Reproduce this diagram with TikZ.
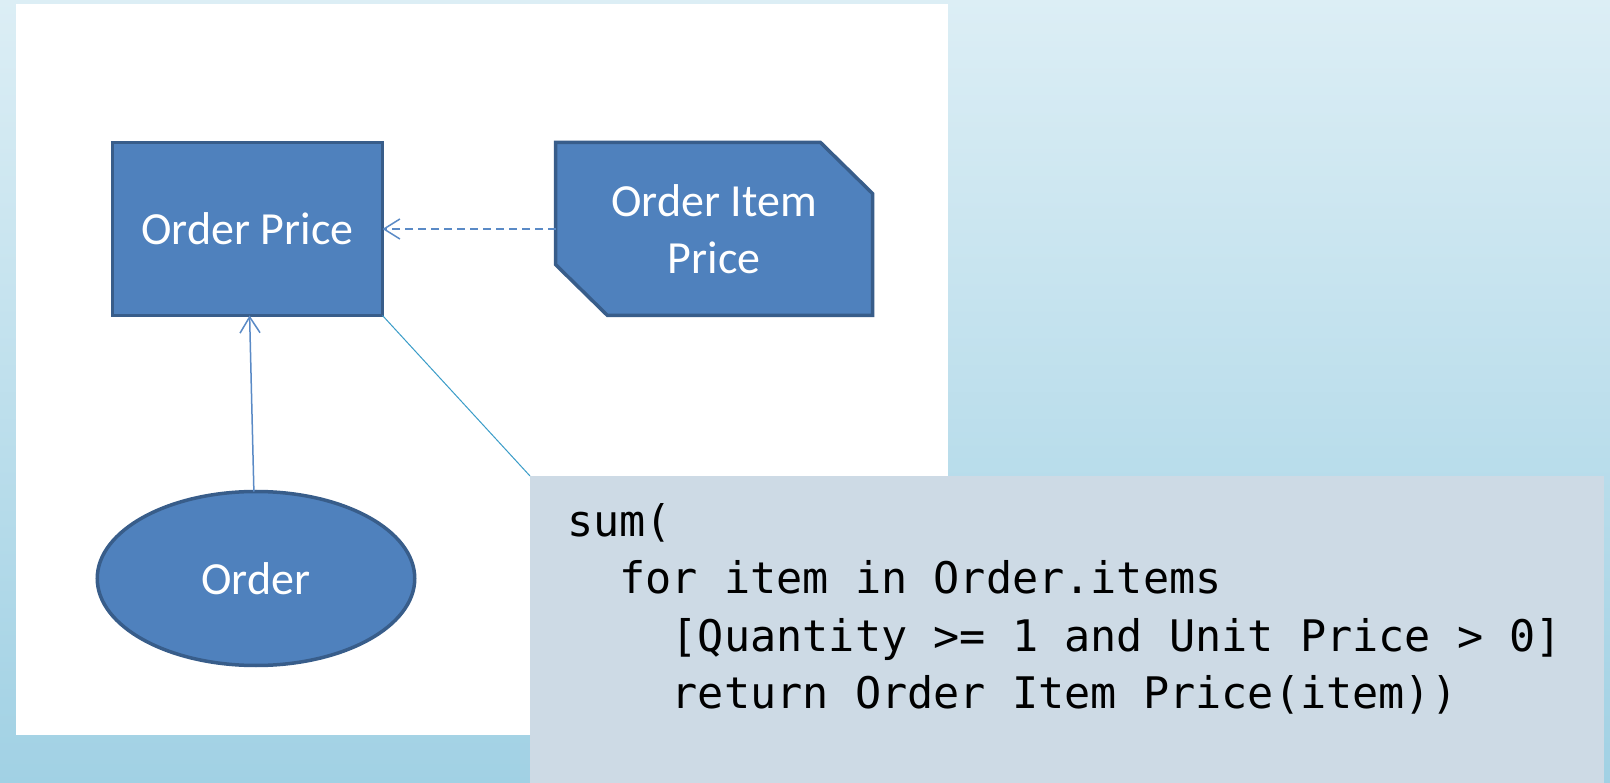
\documentclass[tikz,border=0pt]{standalone}
\usepackage{fontspec}
\usetikzlibrary{arrows.meta,calc,shapes.geometric}
\newfontfamily\shapefont{Carlito}
\newfontfamily\codefont{DejaVu Sans Mono}

\definecolor{bgtop}{HTML}{DCEEF5}
\definecolor{bgbottom}{HTML}{A1D1E4}
\definecolor{shapefill}{HTML}{4F81BD}
\definecolor{shapedraw}{HTML}{385D8A}
\definecolor{connblue}{HTML}{5A8AC6}
\definecolor{leaderblue}{HTML}{3A9CC8}
\definecolor{codefill}{HTML}{CDDAE5}

\pgfdeclarelayer{backdrop}
\pgfdeclarelayer{shapes}
\pgfsetlayers{backdrop,shapes,main}

\tikzset{
  blk/.style={rectangle, fill=shapefill, draw=shapedraw, line width=3.5pt,
    inner sep=0pt, outer sep=0pt, text=white, align=center,
    font=\shapefont\fontsize{46}{56.5}\selectfont},
  conn/.style={draw=connblue, line width=1.5pt,
    -{Straight Barb[length=16pt,width=20pt]}},
  depconn/.style={conn, dash pattern=on 8pt off 5pt},
  leader/.style={draw=leaderblue, line width=1pt},
  codebox/.style={rectangle, fill=codefill, inner sep=0pt, outer sep=0pt},
  codetext/.style={inner sep=0pt, outer sep=0pt, align=left, text=black,
    font=\codefont\fontsize{43.5}{57.5}\selectfont}
}

\begin{document}
\begin{tikzpicture}[x=1pt,y=-1pt]
\useasboundingbox (0,0) rectangle (1610,783);

% slide background and white drawing panel
\begin{pgfonlayer}{backdrop}
  \shade[top color=bgtop,bottom color=bgbottom] (0,0) rectangle (1610,783);
  \fill[white] (16,4) rectangle (948,735);
\end{pgfonlayer}

% derived value
\node[blk, minimum width=270pt, minimum height=173pt] (op) at (247.5,229) {Order Price};

% function, drawn as a rectangle with two cut corners
\node[blk, fill=none, draw=none, minimum width=317pt, minimum height=173pt]
  (oip) at (714,229) {Order Item\\Price};
\begin{pgfonlayer}{shapes}
  \filldraw[fill=shapefill, draw=shapedraw, line width=3.5pt, line join=miter]
    (oip.north west) -- ($(oip.north east)+(-52,0)$) -- ($(oip.north east)+(0,51)$)
    -- (oip.south east) -- ($(oip.south west)+(52,0)$) -- ($(oip.south west)+(0,-51)$)
    -- cycle;
\end{pgfonlayer}

% input entity
\node[blk, ellipse, minimum width=317.5pt, minimum height=174pt] (ord) at (256,578.5) {Order};

% dependencies
\draw[conn] (ord) -- (op);
\draw[depconn] (oip) -- (op);

% expression box; the text node is placed by the baseline of its last line
\node[codebox, anchor=north west, minimum width=1074pt, minimum height=307pt]
  (code) at (530,476) {};
\draw[leader] (op.south east) -- (code.north west);
\node[codetext, anchor=base west] (expr) at (567,708.5)
  {sum(\\
   \phantom{xx}for item in Order.items\\
   \phantom{xxxx}[Quantity >= 1 and Unit Price > 0]\\
   \phantom{xxxx}return Order Item Price(item))};
\end{tikzpicture}
\end{document}
